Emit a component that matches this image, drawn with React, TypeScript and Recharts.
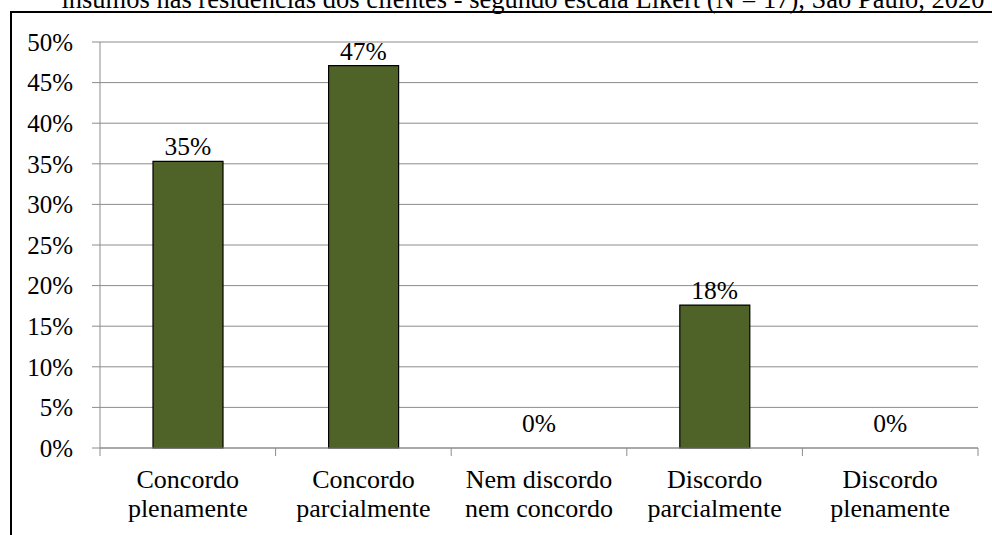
import { ComposedChart, Bar, Line, XAxis, YAxis, CartesianGrid, LabelList } from 'recharts'

const title = 'insumos nas residências dos clientes - segundo escala Likert (N = 17), São Paulo, 2020'
const categories = [
  'Concordo plenamente',
  'Concordo parcialmente',
  'Nem discordo nem concordo',
  'Discordo parcialmente',
  'Discordo plenamente',
]
const categoryLines = [
  ['Concordo', 'plenamente'],
  ['Concordo', 'parcialmente'],
  ['Nem discordo', 'nem concordo'],
  ['Discordo', 'parcialmente'],
  ['Discordo', 'plenamente'],
]
const values = [35.3, 47.1, 0, 17.6, 0]
const yTicks = [0, 5, 10, 15, 20, 25, 30, 35, 40, 45, 50]

const data = categories.map((name, i) => ({ name, value: values[i] }))

const FONT = "'Liberation Serif', 'Times New Roman', serif"
const GRID = '#8c8c8c'
const BAR = '#4f6228'

// eslint-disable-next-line @typescript-eslint/no-explicit-any
function CategoryTick({ x, y, payload, index, visibleTicksCount }: any) {
  const half = payload?.offset ?? 0
  const lines = categoryLines[index] ?? [String(payload?.value ?? '')]
  return (
    <g>
      <line x1={x - half} x2={x - half} y1={y} y2={y + 8} stroke={GRID} />
      {index === visibleTicksCount - 1 && (
        <line x1={x + half} x2={x + half} y1={y} y2={y + 8} stroke={GRID} />
      )}
      <text x={x} y={y + 40} textAnchor="middle" fontFamily={FONT} fontSize={26} fill="#000">
        <tspan x={x} dy={0}>{lines[0]}</tspan>
        <tspan x={x} dy={29}>{lines[1]}</tspan>
      </text>
    </g>
  )
}

// labels sit on an invisible line so the 0% bars still get one
// eslint-disable-next-line @typescript-eslint/no-explicit-any
function ValueLabel({ x, y, value }: any) {
  const gap = value === 0 ? 16 : 6
  return (
    <text x={x} y={y - gap} textAnchor="middle" fontFamily={FONT} fontSize={25.5} fill="#000">
      {Math.round(value)}%
    </text>
  )
}

export default function App() {
  return (
    <div style={{ position: 'fixed', left: 0, top: 0, width: 992, height: 535, overflow: 'hidden', background: '#fff' }}>
      <svg width={992} height={30} style={{ position: 'absolute', left: 0, top: 0 }}>
        <text x={523} y={8} textAnchor="middle" fontFamily={FONT} fontSize={26.5} fill="#000">{title}</text>
      </svg>
      <div style={{
        position: 'absolute', left: 10, top: 11, width: 1100, height: 700,
        borderLeft: '2px solid #000', borderTop: '2px solid #000',
      }} />
      <div style={{ position: 'absolute', left: 0, top: 0 }}>
        <ComposedChart width={992} height={535} data={data} margin={{ top: 42, right: 14, left: 0, bottom: 0 }}>
          <CartesianGrid vertical={false} stroke={GRID} />
          <XAxis
            dataKey="name"
            height={87}
            interval={0}
            axisLine={{ stroke: GRID }}
            tickLine={false}
            tickSize={0}
            tickMargin={0}
            tick={<CategoryTick />}
          />
          <YAxis
            width={100}
            domain={[0, 50]}
            ticks={yTicks}
            interval={0}
            tickFormatter={(v: number) => `${v}%`}
            axisLine={{ stroke: GRID }}
            tickLine={{ stroke: GRID }}
            tickSize={8}
            tickMargin={19}
            tick={{ fontFamily: FONT, fontSize: 25, fill: '#000' }}
          />
          <Bar dataKey="value" fill={BAR} stroke="#000" strokeWidth={1.2} barSize={70} isAnimationActive={false} />
          <Line dataKey="value" stroke="none" dot={false} activeDot={false} isAnimationActive={false}>
            <LabelList dataKey="value" content={<ValueLabel />} />
          </Line>
        </ComposedChart>
      </div>
    </div>
  )
}
